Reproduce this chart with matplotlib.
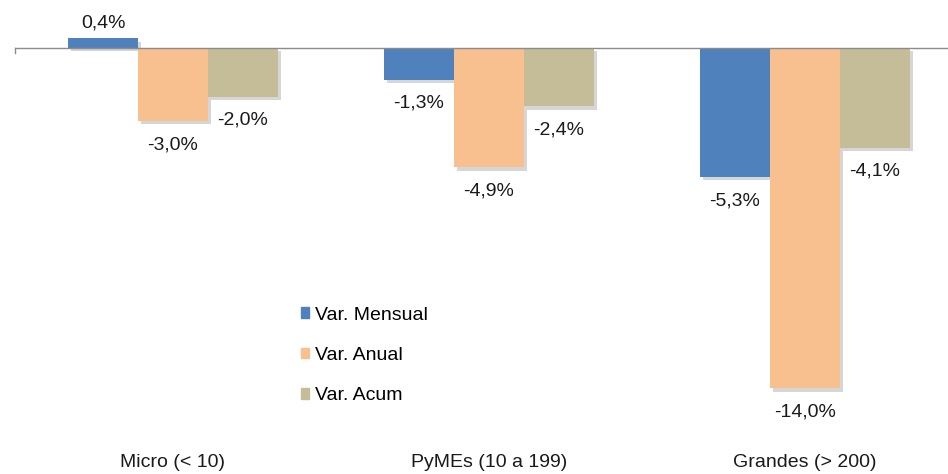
import matplotlib.pyplot as plt
import matplotlib.patheffects as pe
import matplotlib.patches as mpatches
import numpy as np

plt.rcParams['font.family'] = ['Liberation Sans', 'DejaVu Sans']

categories = ["Micro (< 10)", "PyMEs (10 a 199)", "Grandes (> 200)"]
series_names = ["Var. Mensual", "Var. Anual", "Var. Acum"]
mensual = [0.4, -1.3, -5.3]
anual = [-3.0, -4.9, -14.0]
acum = [-2.0, -2.4, -4.1]

colors = ["#4F81BD", "#F9C08F", "#C4BD97"]
TEXT = "#1A1A1A"
FS = 14


def fmt(v):
    return f"{v:.1f}%".replace(".", ",")


fig = plt.figure(figsize=(9.48, 4.74), dpi=100)
# axes runs a bit past the right edge, like the original
ax = fig.add_axes([15 / 948, 0, 948 / 948, 1])
ax.set_xlim(-0.5, 2.5)
ax.set_ylim(-17.53, 1.975)
ax.axis("off")

x = np.arange(len(categories))
w = 0.2215
shadow = [pe.SimplePatchShadow(offset=(2.5, -2.5), shadow_rgbFace="#999999", alpha=0.4), pe.Normal()]

for i, (vals, col) in enumerate(zip([mensual, anual, acum], colors)):
    xs = x + (i - 1) * w
    bars = ax.bar(xs, vals, width=w, color=col, zorder=2)
    for b in bars:
        b.set_path_effects(shadow)
    for xi, v in zip(xs, vals):
        if v >= 0:
            ax.annotate(fmt(v), (xi, v), xytext=(0, 5), textcoords="offset points",
                        ha="center", va="bottom", fontsize=FS, color=TEXT)
        else:
            ax.annotate(fmt(v), (xi, v), xytext=(0, -11), textcoords="offset points",
                        ha="center", va="top", fontsize=FS, color=TEXT)

# zero line and left tick
ax.axhline(0, color="#8C8C8C", linewidth=1.0, zorder=3)
ax.plot([-0.5, -0.5], [0, -0.2], color="#8C8C8C", linewidth=1.0, zorder=3, clip_on=False)

# category labels along the bottom
for xi, cat in zip(x, categories):
    ax.text(xi, -17.05, cat, ha="center", va="center", fontsize=FS, color=TEXT)

handles = [mpatches.Patch(color=c, label=n) for c, n in zip(colors, series_names)]
fig.legend(handles=handles, loc="upper left", bbox_to_anchor=(283 / 948, 1 - 289 / 474),
           frameon=False, fontsize=FS, handlelength=0.46, handleheight=0.46,
           handletextpad=0.3, labelspacing=1.2)

fig.savefig("out.png", dpi=100)
